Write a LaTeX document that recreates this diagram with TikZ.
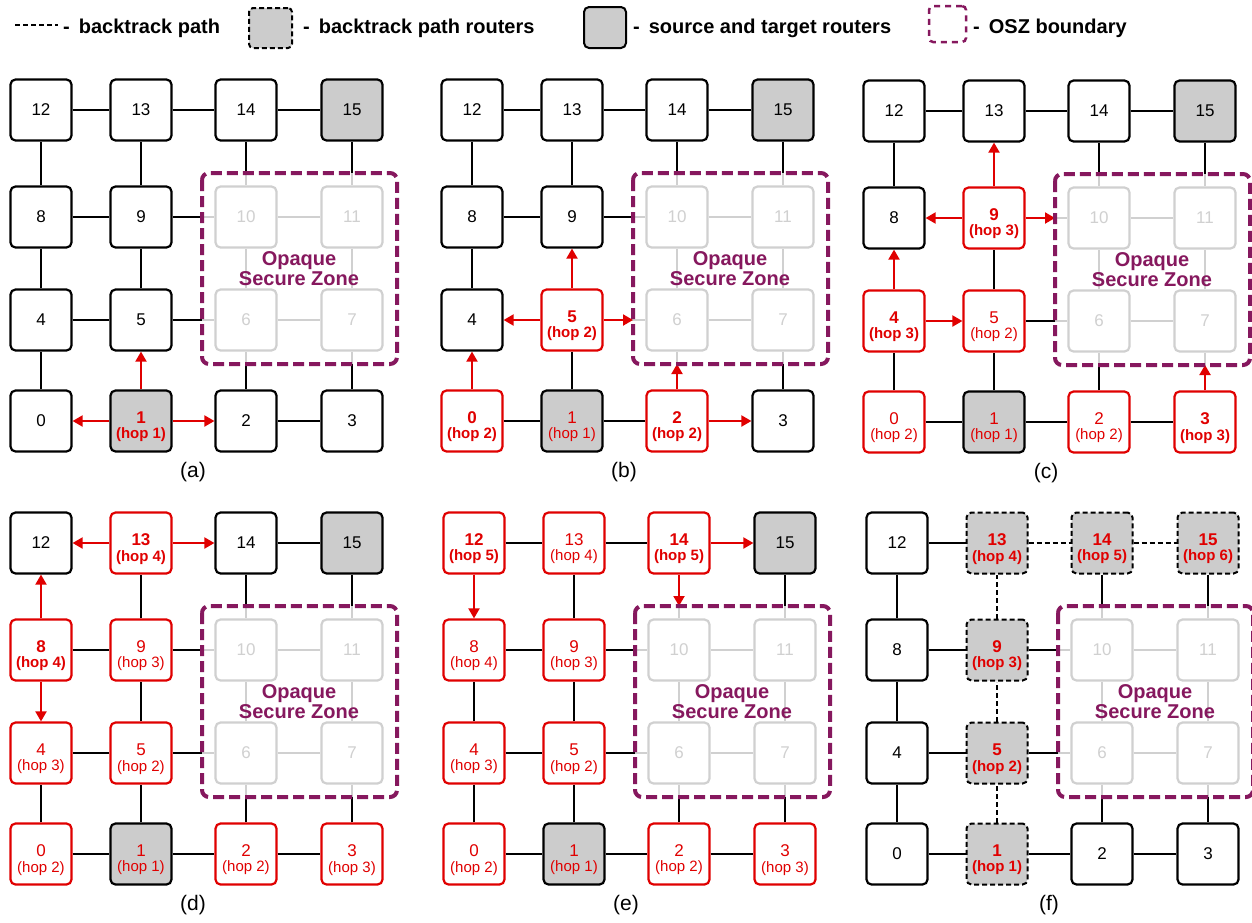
\documentclass[tikz,border=0pt]{standalone}
\usepackage{fontspec}
\setmainfont{Liberation Sans}
\usetikzlibrary{arrows.meta}
\definecolor{nred}{RGB}{224,0,0}
\definecolor{oszp}{RGB}{134,24,94}
\definecolor{gfill}{RGB}{204,204,204}
\definecolor{lgray}{RGB}{208,208,208}
\newcommand{\twol}[2]{\vbox{\hbox to 0pt{\hss\rule{0pt}{24pt}#1\hss}\nointerlineskip\hbox to 0pt{\hss\rule[-3.2pt]{0pt}{18.2pt}#2\hss}}}
\newcommand{\hopB}[2]{\twol{\fontsize{17}{17}\selectfont\bfseries #1}{\fontsize{15}{15}\selectfont\bfseries (hop #2)}}
\newcommand{\hopR}[2]{\twol{\fontsize{17}{17}\selectfont #1}{\fontsize{15}{15}\selectfont (hop #2)}}
\tikzset{
  rt/.style={draw, line width=2.2pt, rounded corners=5pt, minimum size=61pt, inner sep=0pt, fill=white, font=\fontsize{17}{17}\selectfont},
  nrm/.style={rt},
  src/.style={rt, fill=gfill},
  srcr/.style={rt, fill=gfill, text=nred},
  vis/.style={rt, draw=nred, text=nred},
  oszn/.style={rt, draw=lgray, text=lgray},
  btr/.style={rt, fill=gfill, text=nred, dash pattern=on 5pt off 3pt, line width=2pt},
  wire/.style={line width=2pt},
  gwire/.style={line width=2pt, draw=lgray},
  arr/.style={line width=2pt, draw=nred, -{Triangle[length=10pt,width=11pt]}},
  bwire/.style={line width=2pt, dash pattern=on 5pt off 3pt},
  oszl/.style={draw=oszp, line width=4pt, dash pattern=on 11pt off 5pt, rounded corners=7pt},
  osztxt/.style={text=oszp, align=center, font=\fontsize{20}{20}\selectfont\bfseries, inner sep=0pt},
  leg/.style={anchor=base west, font=\fontsize{20}{20}\selectfont\bfseries, inner sep=0pt},
  plab/.style={font=\fontsize{21}{21}\selectfont, inner sep=0pt},
}
\newcommand{\mesh}[4]{%
  \foreach \nid/\nst/\ntx in {#4}{%
    \pgfmathtruncatemacro\cc{mod(\nid,4)}%
    \pgfmathtruncatemacro\rr{3-div(\nid,4)}%
    \pgfmathtruncatemacro\px{#2+(\cc==1)*100+(\cc==2)*205+(\cc==3)*311}%
    \pgfmathtruncatemacro\py{#3+(\rr==1)*107+(\rr==2)*210+(\rr==3)*311}%
    \node[\nst] (#1\nid) at (\px,\py) {\ntx};
  }%
  \coordinate (#1ZA) at (#2+161,#3+63);
  \coordinate (#1ZB) at (#2+356,#3+254);
  \coordinate (#1ZC) at (#2+258,#3+159);
  \coordinate (#1L) at (#2+152,#3+362);
  \foreach \ea/\eb in {6/7,10/11,6/10,7/11,5/6,9/10,2/6,3/7,14/10,15/11}
    \draw[gwire] (#1\ea) -- (#1\eb);
}
\newcommand{\wires}[3]{\foreach \ea/\eb in {#3} \draw[#2] (#1\ea) -- (#1\eb);}
\newcommand{\xw}[3]{\draw[#3] (#1#2) -- (#1#2 -| #1ZA);}
\newcommand{\xs}[3]{\draw[#3] (#1#2) -- (#1#2 |- #1ZB);}
\newcommand{\xn}[3]{\draw[#3] (#1#2) -- (#1#2 |- #1ZA);}
\newcommand{\zone}[2]{%
  \draw[oszl] (#1ZA) rectangle (#1ZB);
  \node[osztxt] (#1T) at (#1ZC) {Opaque\\Secure Zone};
  \node[plab] (#1lab) at (#1L) {(#2)};
}
\begin{document}
\begin{tikzpicture}[x=1pt,y=-1pt]
\useasboundingbox (0,0) rectangle (1252,922);
\fill[white] (0,0) rectangle (1252,922);

% legend
\coordinate (l1a) at (15,25);
\coordinate (l1b) at (58,25);
\draw[bwire] (l1a) -- (l1b);
\node[leg] (lt1) at (63,33) {-\hspace{9pt}backtrack path};
\node[draw, fill=gfill, line width=2pt, dash pattern=on 5pt off 3pt, rounded corners=4pt, minimum width=43pt, minimum height=40pt, inner sep=0pt] (lb2) at (270.5,28) {};
\node[leg] (lt2) at (303,33) {-\hspace{9pt}backtrack path routers};
\node[draw, fill=gfill, line width=2pt, rounded corners=5pt, minimum width=42pt, minimum height=41pt, inner sep=0pt] (lb3) at (605,27.5) {};
\node[leg] (lt3) at (633,33) {-\hspace{9pt}source and target routers};
\node[draw=oszp, line width=2.5pt, dash pattern=on 6pt off 5pt, rounded corners=4pt, minimum width=37pt, minimum height=36pt, inner sep=0pt] (lb4) at (947.5,24) {};
\node[leg] (lt4) at (973,33) {-\hspace{9pt}OSZ boundary};

% ---------------- (a)
\mesh{a}{41}{110}{0/nrm/0, 1/srcr/{\hopB{1}{1}}, 2/nrm/2, 3/nrm/3, 4/nrm/4, 5/nrm/5, 6/oszn/6, 7/oszn/7, 8/nrm/8, 9/nrm/9, 10/oszn/10, 11/oszn/11, 12/nrm/12, 13/nrm/13, 14/nrm/14, 15/src/15}
\wires{a}{wire}{2/3, 4/5, 8/9, 12/13, 13/14, 14/15, 0/4, 4/8, 5/9, 8/12, 9/13}
\wires{a}{arr}{1/0, 1/2, 1/5}
\xw{a}{5}{wire} \xw{a}{9}{wire} \xs{a}{2}{wire} \xs{a}{3}{wire} \xn{a}{14}{wire} \xn{a}{15}{wire}
\zone{a}{a}

% ---------------- (b)
\mesh{b}{472}{110}{0/vis/{\hopB{0}{2}}, 1/srcr/{\hopR{1}{1}}, 2/vis/{\hopB{2}{2}}, 3/nrm/3, 4/nrm/4, 5/vis/{\hopB{5}{2}}, 6/oszn/6, 7/oszn/7, 8/nrm/8, 9/nrm/9, 10/oszn/10, 11/oszn/11, 12/nrm/12, 13/nrm/13, 14/nrm/14, 15/src/15}
\wires{b}{wire}{0/1, 1/2, 8/9, 12/13, 13/14, 14/15, 1/5, 4/8, 8/12, 9/13}
\wires{b}{arr}{0/4, 5/4, 5/9, 2/3}
\xw{b}{5}{arr} \xw{b}{9}{wire} \xs{b}{2}{arr} \xs{b}{3}{wire} \xn{b}{14}{wire} \xn{b}{15}{wire}
\zone{b}{b}

% ---------------- (c)
\mesh{c}{894}{111}{0/vis/{\hopR{0}{2}}, 1/srcr/{\hopR{1}{1}}, 2/vis/{\hopR{2}{2}}, 3/vis/{\hopB{3}{3}}, 4/vis/{\hopB{4}{3}}, 5/vis/{\hopR{5}{2}}, 6/oszn/6, 7/oszn/7, 8/nrm/8, 9/vis/{\hopB{9}{3}}, 10/oszn/10, 11/oszn/11, 12/nrm/12, 13/nrm/13, 14/nrm/14, 15/src/15}
\wires{c}{wire}{0/1, 1/2, 2/3, 12/13, 13/14, 14/15, 0/4, 1/5, 5/9, 8/12}
\wires{c}{arr}{4/8, 4/5, 9/8, 9/13}
\xw{c}{5}{wire} \xw{c}{9}{arr} \xs{c}{2}{wire} \xs{c}{3}{arr} \xn{c}{14}{wire} \xn{c}{15}{wire}
\zone{c}{c}

% ---------------- (d)
\mesh{d}{41}{543}{0/vis/{\hopR{0}{2}}, 1/srcr/{\hopR{1}{1}}, 2/vis/{\hopR{2}{2}}, 3/vis/{\hopR{3}{3}}, 4/vis/{\hopR{4}{3}}, 5/vis/{\hopR{5}{2}}, 6/oszn/6, 7/oszn/7, 8/vis/{\hopB{8}{4}}, 9/vis/{\hopR{9}{3}}, 10/oszn/10, 11/oszn/11, 12/nrm/12, 13/vis/{\hopB{13}{4}}, 14/nrm/14, 15/src/15}
\wires{d}{wire}{0/1, 1/2, 2/3, 4/5, 8/9, 14/15, 0/4, 1/5, 5/9, 9/13}
\wires{d}{arr}{8/12, 8/4, 13/12, 13/14}
\xw{d}{5}{wire} \xw{d}{9}{wire} \xs{d}{2}{wire} \xs{d}{3}{wire} \xn{d}{14}{wire} \xn{d}{15}{wire}
\zone{d}{d}

% ---------------- (e)
\mesh{e}{474}{543}{0/vis/{\hopR{0}{2}}, 1/srcr/{\hopR{1}{1}}, 2/vis/{\hopR{2}{2}}, 3/vis/{\hopR{3}{3}}, 4/vis/{\hopR{4}{3}}, 5/vis/{\hopR{5}{2}}, 6/oszn/6, 7/oszn/7, 8/vis/{\hopR{8}{4}}, 9/vis/{\hopR{9}{3}}, 10/oszn/10, 11/oszn/11, 12/vis/{\hopB{12}{5}}, 13/vis/{\hopR{13}{4}}, 14/vis/{\hopB{14}{5}}, 15/src/15}
\wires{e}{wire}{0/1, 1/2, 2/3, 4/5, 8/9, 12/13, 13/14, 0/4, 1/5, 4/8, 5/9, 9/13}
\wires{e}{arr}{12/8, 14/15}
\xw{e}{5}{wire} \xw{e}{9}{wire} \xs{e}{2}{wire} \xs{e}{3}{wire} \xn{e}{14}{arr} \xn{e}{15}{wire}
\zone{e}{e}

% ---------------- (f)
\mesh{f}{897}{543}{0/nrm/0, 1/btr/{\hopB{1}{1}}, 2/nrm/2, 3/nrm/3, 4/nrm/4, 5/btr/{\hopB{5}{2}}, 6/oszn/6, 7/oszn/7, 8/nrm/8, 9/btr/{\hopB{9}{3}}, 10/oszn/10, 11/oszn/11, 12/nrm/12, 13/btr/{\hopB{13}{4}}, 14/btr/{\hopB{14}{5}}, 15/btr/{\hopB{15}{6}}}
\wires{f}{wire}{0/1, 1/2, 2/3, 4/5, 8/9, 12/13, 0/4, 4/8, 8/12}
\wires{f}{bwire}{1/5, 5/9, 9/13, 13/14, 14/15}
\xw{f}{5}{wire} \xw{f}{9}{wire} \xs{f}{2}{wire} \xs{f}{3}{wire} \xn{f}{14}{wire} \xn{f}{15}{wire}
\zone{f}{f}
\end{tikzpicture}
\end{document}
